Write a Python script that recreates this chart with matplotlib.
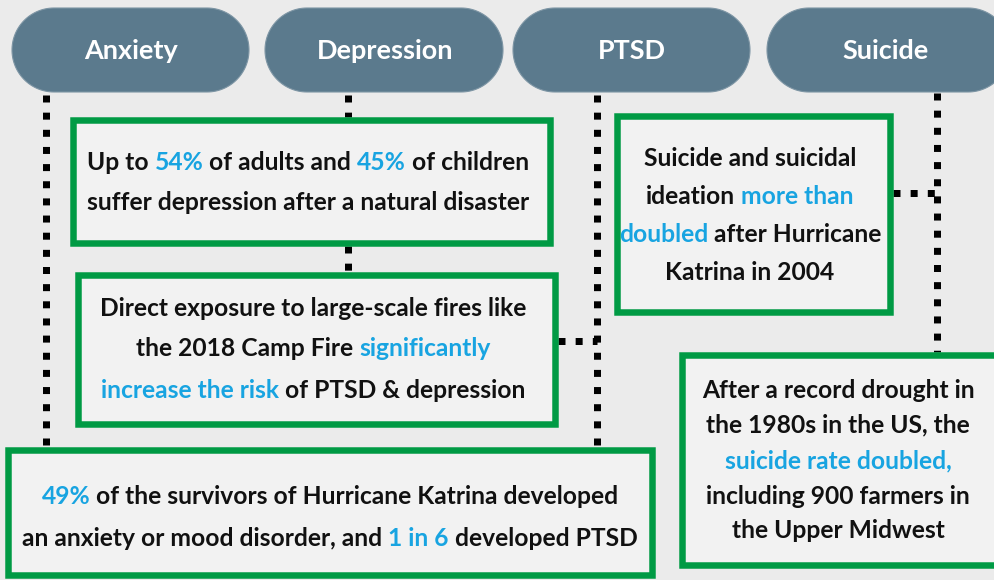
import re
import numpy as np
import matplotlib
matplotlib.use("Agg")
import matplotlib.pyplot as plt
from matplotlib.patches import Polygon, Rectangle

# ---------------- data ----------------
categories = ["Anxiety", "Depression", "PTSD", "Suicide"]

box_texts = [
    "Up to [54%] of adults and [45%] of children\nsuffer depression after a natural disaster",
    "Direct exposure to large-scale fires like\nthe 2018 Camp Fire [significantly]\n[increase the risk] of PTSD & depression",
    "[49%] of the survivors of Hurricane Katrina developed\nan anxiety or mood disorder, and [1 in 6] developed PTSD",
    "Suicide and suicidal\nideation [more than]\n[doubled] after Hurricane\nKatrina in 2004",
    "After a record drought in\nthe 1980s in the US, the\n[suicide rate doubled,]\nincluding 900 farmers in\nthe Upper Midwest",
]

# ---------------- layout (pixels) ----------------
W, H = 995, 580
pill_boxes = [(12, 8, 249, 92), (265, 8, 503, 92), (513, 8, 750, 92), (767, 8, 1010, 92)]
label_cx = [131, 385, 632, 886]
boxes = [(70, 117, 553, 246), (75, 272, 558, 427), (5, 447, 655, 578),
         (614, 113, 893, 315), (679, 352, 1000, 568)]
text_cx = [308, 313, 330, 750, 838]
line_ys = [[162, 202], [308, 348, 389], [495, 537], [157, 195, 233, 271],
           [390, 424, 460, 495, 530]]

BG = "#ebebeb"
PILL = "#5b7a8d"
GREEN = "#009a44"
FILL = "#f2f2f2"
BLUE = "#18a4e1"
DARK = "#111111"
FONT = "Lato"

fig = plt.figure(figsize=(W / 100, H / 100), dpi=100)
fig.patch.set_facecolor(BG)
ax = fig.add_axes([0, 0, 1, 1])
ax.set_xlim(0, W)
ax.set_ylim(H, 0)
ax.axis("off")

px = 72 / 100  # points per pixel


def dotted(x0, y0, x1, y1):
    ax.plot([x0, x1], [y0, y1], color="black", lw=7 * px,
            linestyle=(0, (1.0, 1.45)), solid_capstyle="butt",
            dash_capstyle="butt", zorder=1)


# dotted connectors
dotted(46, 95, 46, 447)
dotted(348, 95, 348, 117)
dotted(348, 246, 348, 272)
dotted(597, 95, 597, 447)
dotted(937, 93, 937, 352)
dotted(558, 341, 597, 341)
dotted(893, 193, 937, 193)

# boxes
bw = 6.5
for (x0, y0, x1, y1) in boxes:
    ax.add_patch(Rectangle((x0 + bw / 2, y0 + bw / 2), x1 - x0 - bw, y1 - y0 - bw,
                           facecolor=FILL, edgecolor=GREEN, lw=bw * px, zorder=2))


def stadium(x0, y0, x1, y1):
    r = (y1 - y0) / 2
    cy = (y0 + y1) / 2
    t = np.linspace(-np.pi / 2, np.pi / 2, 60)
    right = np.column_stack([x1 - r + r * np.cos(t), cy + r * np.sin(t)])
    t2 = np.linspace(np.pi / 2, 3 * np.pi / 2, 60)
    left = np.column_stack([x0 + r + r * np.cos(t2), cy + r * np.sin(t2)])
    return np.vstack([right, left])


# pills
for name, (x0, y0, x1, y1), cx in zip(categories, pill_boxes, label_cx):
    ax.add_patch(Polygon(stadium(x0, y0, x1, y1), closed=True,
                         facecolor=PILL, edgecolor="#7d95a4", lw=0.8, zorder=3))
    ax.text(cx, (y0 + y1) / 2 + 1, name,
            ha="center", va="center", color="white", fontsize=27 * px,
            fontweight="bold", family=FONT, zorder=4)

renderer = fig.canvas.get_renderer()
FS = 24.6 * px


def measure(s):
    t = ax.text(0, 0, s, fontsize=FS, fontweight="bold", family=FONT)
    w = t.get_window_extent(renderer).width
    t.remove()
    return w


space_w = measure("a a") - measure("aa")


def parse(line):
    words = []
    for part in re.split(r"(\[[^\]]*\])", line):
        if not part:
            continue
        col = BLUE if part.startswith("[") else DARK
        txt = part[1:-1] if part.startswith("[") else part
        words.append((txt.strip(), col, txt.startswith(" "), txt.endswith(" ")))
    return words


for txt, cx, ys in zip(box_texts, text_cx, line_ys):
    for line, y in zip(txt.split("\n"), ys):
        words = parse(line)
        widths = [measure(w[0]) for w in words]
        gaps = []
        for i in range(len(words) - 1):
            gaps.append(space_w if (words[i][3] or words[i + 1][2]) else 0)
        total = sum(widths) + sum(gaps)
        x = cx - total / 2
        for i, ((s, col, _, _), w) in enumerate(zip(words, widths)):
            ax.text(x, y + 8.5, s, fontsize=FS, fontweight="bold", family=FONT,
                    color=col, ha="left", va="baseline", zorder=5)
            x += w + (gaps[i] if i < len(gaps) else 0)

fig.savefig("out.png", dpi=100, facecolor=BG)
